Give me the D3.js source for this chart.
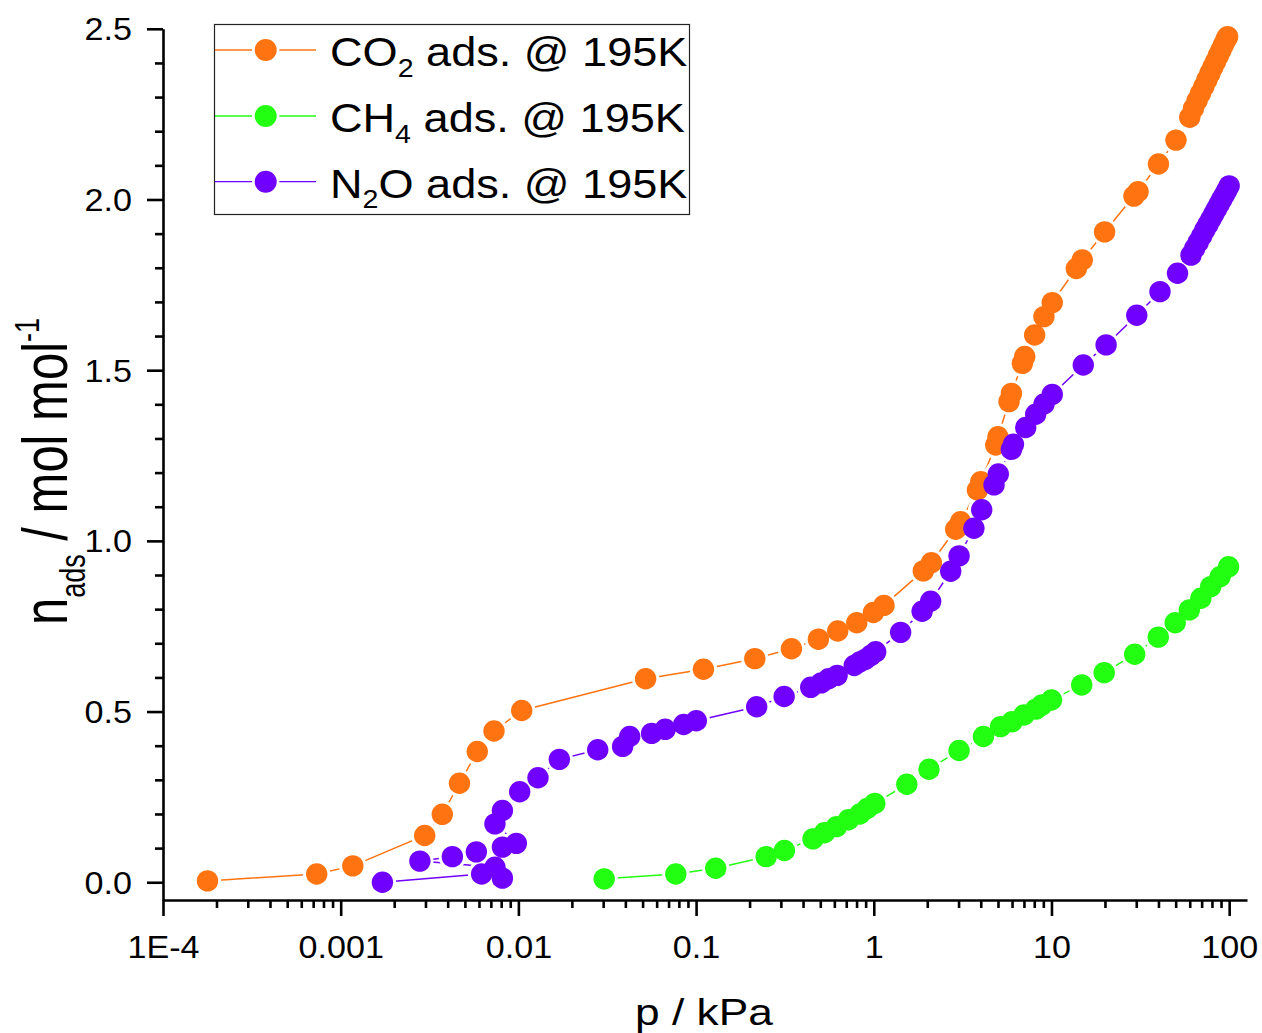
<!DOCTYPE html>
<html>
<head>
<meta charset="utf-8">
<script src="https://cdn.jsdelivr.net/npm/d3@7"></script>
<style>
  html, body { margin: 0; padding: 0; background: #fff; }
  svg { display: block; font-family: "Liberation Sans", Arial, Helvetica, sans-serif; }
</style>
</head>
<body>
<svg id="chart" width="1262" height="1033"></svg>
<script>
// Adsorption isotherms at 195 K: pressure (kPa) vs amount adsorbed (mol/mol)
const co2P = [1.78e-4, 7.33e-4, 1.17e-3, 2.97e-3, 3.73e-3, 4.66e-3, 5.87e-3, 7.29e-3, 1.044e-2,
  0.052, 0.110, 0.214, 0.344, 0.488, 0.627, 0.802, 0.995, 1.141, 1.90, 2.11, 2.89, 3.08, 3.83, 4.00,
  4.86, 5.00, 5.77, 5.95, 6.86, 7.07, 8.04, 9.07, 10.1, 13.8, 14.9, 19.9, 29.1, 30.7, 40.0, 50.2,
  60, 63, 66, 69, 72, 75, 78, 81, 84, 87, 90, 93, 96, 98];
const co2N = [0.004, 0.024, 0.048, 0.137, 0.199, 0.290, 0.383, 0.443, 0.503,
  0.596, 0.624, 0.655, 0.684, 0.712, 0.736, 0.760, 0.790, 0.811, 0.912, 0.936, 1.034, 1.056, 1.149, 1.173,
  1.281, 1.305, 1.408, 1.432, 1.520, 1.540, 1.603, 1.657, 1.698, 1.798, 1.823, 1.905, 2.010, 2.023, 2.104, 2.174,
  2.241, 2.267, 2.290, 2.311, 2.331, 2.351, 2.370, 2.388, 2.405, 2.422, 2.438, 2.454, 2.469, 2.477];

const ch4P = [0.0304, 0.0769, 0.129, 0.248, 0.314, 0.455, 0.528, 0.617, 0.720, 0.835, 0.918, 1.013,
  1.534, 2.045, 3.02, 4.14, 5.17, 6.00, 7.00, 8.17, 8.83, 10.0, 14.8, 19.8, 29.4, 39.9, 49.7,
  59.7, 69.3, 78.7, 88.9, 99.2];
const ch4N = [0.010, 0.024, 0.041, 0.075, 0.093, 0.127, 0.145, 0.163, 0.183, 0.200, 0.216, 0.231,
  0.287, 0.331, 0.386, 0.427, 0.456, 0.470, 0.490, 0.507, 0.519, 0.534, 0.578, 0.614, 0.668, 0.718, 0.760,
  0.798, 0.832, 0.866, 0.895, 0.924];

const n2oP = [1.717e-3, 6.21e-3, 8.13e-3, 7.38e-3, 2.79e-3, 4.25e-3, 5.80e-3, 8.13e-3, 9.74e-3,
  7.38e-3, 8.13e-3, 1.017e-2, 1.289e-2, 1.70e-2, 0.02795, 0.0386, 0.0423, 0.0562, 0.0670, 0.0851, 0.1003,
  0.2193, 0.313, 0.4416, 0.506, 0.557, 0.622, 0.776, 0.834, 0.895, 0.960, 1.025, 1.416, 1.871, 2.09,
  2.71, 3.02, 3.66, 4.05, 4.75, 5.02, 5.95, 6.11, 7.16, 8.15, 9.08, 10.1, 15.1, 20.3, 30.2, 40.8, 51.2,
  61, 64, 67, 70, 73, 76, 79, 82, 85, 88, 91, 94, 97, 100];
const n2oN = [0.000, 0.024, 0.012, 0.044, 0.062, 0.075, 0.089, 0.103, 0.114,
  0.171, 0.210, 0.265, 0.306, 0.360, 0.388, 0.398, 0.427, 0.436, 0.448, 0.462, 0.473,
  0.514, 0.544, 0.571, 0.584, 0.596, 0.606, 0.635, 0.645, 0.653, 0.664, 0.675, 0.732, 0.794, 0.823,
  0.911, 0.956, 1.037, 1.091, 1.164, 1.196, 1.268, 1.283, 1.332, 1.371, 1.401, 1.429, 1.515, 1.574, 1.661, 1.730, 1.784,
  1.837, 1.857, 1.875, 1.893, 1.911, 1.927, 1.943, 1.958, 1.973, 1.987, 2.001, 2.014, 2.027, 2.040];

const seriesNames = ["CO2", "CH4", "N2O"];
const seriesColors = ["#ff7410", "#22ff11", "#7000ff"];

const xTickValues = [1e-4, 1e-3, 1e-2, 1e-1, 1, 10, 100];
const xTickLabels = ["1E-4", "0.001", "0.01", "0.1", "1", "10", "100"];
const yTickValues = [0, 0.5, 1.0, 1.5, 2.0, 2.5];
const yTickLabels = ["0.0", "0.5", "1.0", "1.5", "2.0", "2.5"];

const svg = d3.select("#chart");
svg.append("rect").attr("width", 1262).attr("height", 1033).attr("fill", "#fff");

const x = d3.scaleLog().domain([1e-4, 126]).range([163, 1247]);
const y = d3.scaleLinear().domain([-0.052, 2.5]).range([900, 28.8]);

// minor ticks: 2..9 within each decade, up to the axis end
const xMinor = [];
for (let e = -4; e <= 2; e++) {
  for (let m = 2; m <= 9; m++) {
    const v = m * Math.pow(10, e);
    if (v < x.domain()[1]) xMinor.push(v);
  }
}
const yMinor = d3.range(0, 26).map(i => i / 10).filter((v, i) => i % 5 !== 0);

const axisW = 2.6;
const tickFont = 30.5, tickStretch = 1.12;

// bottom axis
const gx = svg.append("g").attr("transform", `translate(0,900)`);
gx.call(d3.axisBottom(x).tickValues(xMinor).tickSize(8).tickFormat("").tickSizeOuter(0))
  .call(g => g.select(".domain").remove());
gx.append("g").call(d3.axisBottom(x).tickValues(xTickValues).tickSize(16).tickSizeOuter(0)
  .tickFormat((d, i) => xTickLabels[i]));
gx.selectAll("line").attr("stroke", "#000").attr("stroke-width", axisW);
gx.selectAll(".domain").attr("stroke", "#000").attr("stroke-width", axisW);
gx.selectAll("text")
  .attr("y", 57.7).attr("dy", null)
  .attr("transform", `scale(${tickStretch},1)`)
  .attr("font-size", tickFont).attr("fill", "#000")
  .attr("font-family", '"Liberation Sans", Arial, sans-serif');

// left axis
const gy = svg.append("g").attr("transform", `translate(163,0)`);
gy.call(d3.axisLeft(y).tickValues(yMinor).tickSize(8).tickFormat("").tickSizeOuter(0))
  .call(g => g.select(".domain").remove());
gy.append("g").call(d3.axisLeft(y).tickValues(yTickValues).tickSize(16).tickSizeOuter(0)
  .tickFormat((d, i) => yTickLabels[i]));
gy.selectAll("line").attr("stroke", "#000").attr("stroke-width", axisW);
gy.selectAll(".domain").attr("stroke", "#000").attr("stroke-width", axisW);
gy.selectAll("text")
  .attr("x", -31 / tickStretch).attr("y", 10.9).attr("dy", null)
  .attr("transform", `scale(${tickStretch},1)`)
  .attr("font-size", tickFont).attr("fill", "#000")
  .attr("font-family", '"Liberation Sans", Arial, sans-serif');

// axis titles
svg.append("text")
  .attr("transform", "translate(704,1025) scale(1.23,1)")
  .attr("text-anchor", "middle").attr("font-size", 36).attr("fill", "#000")
  .text("p / kPa");

const yTitle = svg.append("text")
  .attr("transform", "translate(67,471.5) rotate(-90) scale(1,1.27)")
  .attr("text-anchor", "middle").attr("font-size", 49).attr("fill", "#000");
yTitle.append("tspan").text("n");
yTitle.append("tspan").attr("font-size", 27).attr("dy", 14).text("ads");
yTitle.append("tspan").attr("dy", -14).text(" / mol mol");
yTitle.append("tspan").attr("font-size", 27).attr("dy", -22).text("-1");

// series
const series = [
  { p: co2P, n: co2N, color: seriesColors[0] },
  { p: ch4P, n: ch4N, color: seriesColors[1] },
  { p: n2oP, n: n2oN, color: seriesColors[2] }
];
const R = 10.7;
const line = d3.line().x(d => x(d[0])).y(d => y(d[1]));
const plot = svg.append("g");
const linesG = plot.append("g"), halosG = plot.append("g"), marksG = plot.append("g");
series.forEach(s => {
  const pts = s.p.map((v, i) => [v, s.n[i]]);
  linesG.append("path").datum(pts).attr("d", line)
    .attr("fill", "none").attr("stroke", s.color).attr("stroke-width", 1.5);
  halosG.selectAll(null).data(pts).join("circle")
    .attr("cx", d => x(d[0])).attr("cy", d => y(d[1])).attr("r", R + 3).attr("fill", "#fff");
});
series.forEach(s => {
  const pts = s.p.map((v, i) => [v, s.n[i]]);
  marksG.append("g").selectAll("circle").data(pts).join("circle")
    .attr("cx", d => x(d[0])).attr("cy", d => y(d[1])).attr("r", R).attr("fill", s.color);
});

// legend
const legend = svg.append("g");
legend.append("rect").attr("x", 214.5).attr("y", 24.5).attr("width", 475).attr("height", 190)
  .attr("fill", "#fff").attr("stroke", "#222").attr("stroke-width", 1.2);
const legendRows = [
  { label: ["CO", "2", " ads. @ 195K"], color: seriesColors[0], w: 2 },
  { label: ["CH", "4", " ads. @ 195K"], color: seriesColors[1], w: 1.3 },
  { label: ["N", "2", "O ads. @ 195K"], color: seriesColors[2], w: 1.3 }
];
const rowY = [50, 116, 181.7];
legendRows.forEach((r, i) => {
  const cy = rowY[i];
  legend.append("line").attr("x1", 215).attr("x2", 316).attr("y1", cy).attr("y2", cy)
    .attr("stroke", r.color).attr("stroke-width", r.w).attr("stroke-opacity", i === 0 ? 0.75 : 1);
  legend.append("circle").attr("cx", 265.7).attr("cy", cy).attr("r", R + 3).attr("fill", "#fff");
  legend.append("circle").attr("cx", 265.7).attr("cy", cy).attr("r", 11).attr("fill", r.color);
  const t = legend.append("text")
    .attr("transform", `translate(330,${cy + 16}) scale(1.1,1)`)
    .attr("font-size", 41).attr("fill", "#000");
  t.append("tspan").text(r.label[0]);
  t.append("tspan").attr("font-size", 26).attr("dy", 10.5).text(r.label[1]);
  t.append("tspan").attr("dy", -10.5).text(r.label[2]);
});
</script>
</body>
</html>
